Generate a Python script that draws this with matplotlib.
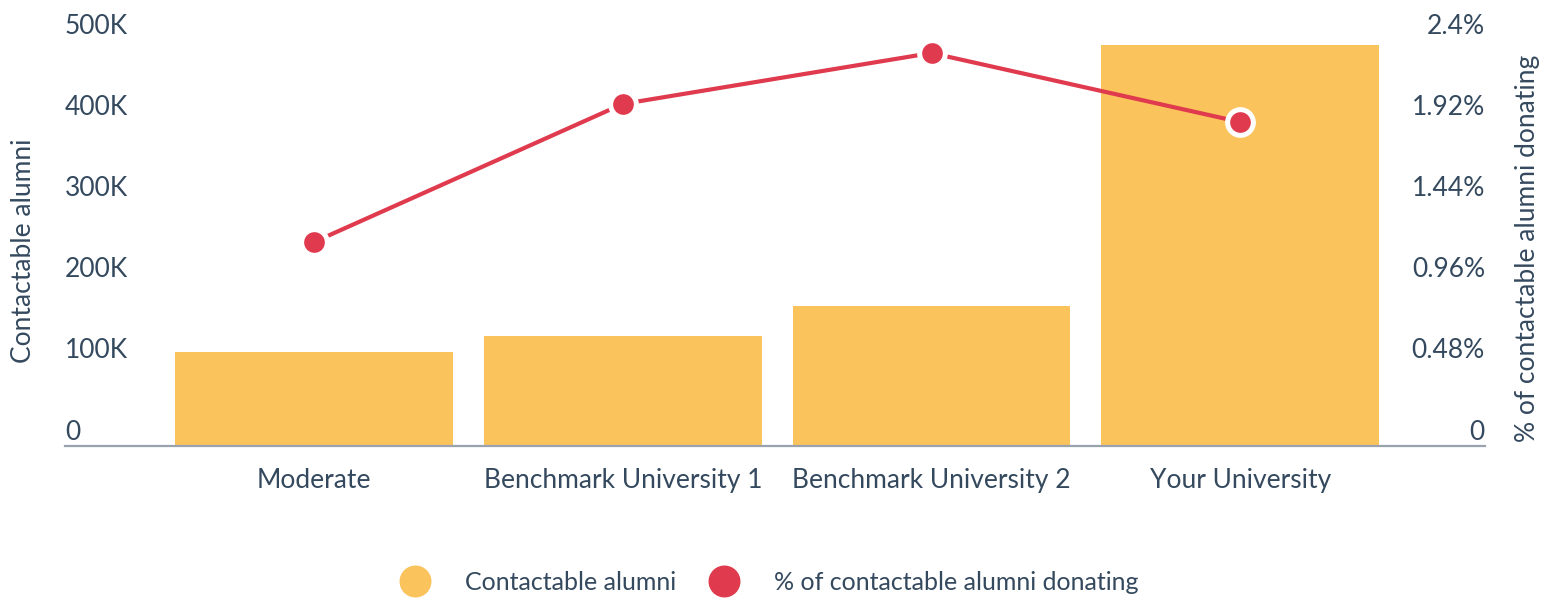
#!/usr/bin/env python3

import matplotlib.pyplot as plt
from matplotlib.lines import Line2D
from matplotlib.transforms import offset_copy


########
# Data #
########

categories = ['Moderate', 'Benchmark University 1', 'Benchmark University 2',
              'Your University']
alumni = [115800, 135500, 172000, 494000]
pct_donating = [1.206, 2.022, 2.323, 1.915]

left_ticks = [0, 100000, 200000, 300000, 400000, 500000]
left_labels = ['0', '100K', '200K', '300K', '400K', '500K']
right_ticks = [0, 0.48, 0.96, 1.44, 1.92, 2.4]
right_labels = ['0', '0.48%', '0.96%', '1.44%', '1.92%', '2.4%']


#########
# Style #
#########

YELLOW = '#fbc35b'
RED = '#e03a4e'
TEXT = '#34495e'
AXIS = '#9aa3ad'
FONT = 'Lato'

plt.rcParams.update({'font.family': [FONT, 'DejaVu Sans'],
                     'font.size': 19})


########
# Plot #
########

W, H = 1549, 601
fig = plt.figure(figsize=(W / 100, H / 100), dpi=100)
ax = fig.add_axes([65 / W, 155 / H, 1420 / W, 406 / H])
ax2 = ax.twinx()

x = list(range(len(categories)))
ax.bar(x, alumni, width=0.9, color=YELLOW, zorder=2)

ax2.plot(x, pct_donating, color=RED, lw=3, zorder=3,
         marker='o', ms=18.5, mfc=RED, mec='white', mew=3.6)

ax.set_xlim(-0.807, 3.793)
ax.set_ylim(0, 500000)
ax2.set_ylim(0, 2.4)

for a in (ax, ax2):
    for s in a.spines.values():
        s.set_visible(False)
    a.set_yticks([])
ax.spines['bottom'].set_visible(True)
ax.spines['bottom'].set_color(AXIS)
ax.spines['bottom'].set_linewidth(1.6)

ax.set_xticks(x)
ax.set_xticklabels(categories, color=TEXT)
ax.tick_params(axis='x', length=0, pad=16)

# y tick labels sit above their tick position
lt = offset_copy(ax.get_yaxis_transform(), fig=fig, y=6.5, units='dots')
for v, lab in zip(left_ticks, left_labels):
    ax.text(0, v, lab, transform=lt, ha='left', va='baseline', color=TEXT)
rt = offset_copy(ax2.get_yaxis_transform(), fig=fig, y=6.5, units='dots')
for v, lab in zip(right_ticks, right_labels):
    ax2.text(1, v, lab, transform=rt, ha='right', va='baseline', color=TEXT)

fig.text(24 / W, 1 - 251 / H, 'Contactable alumni', rotation=90,
         ha='center', va='center', color=TEXT)
fig.text(1528 / W, 1 - 248 / H, '% of contactable alumni donating',
         rotation=90, ha='center', va='center', color=TEXT)

handles = [
    Line2D([], [], ls='none', marker='o', ms=22, mfc=YELLOW, mec=YELLOW,
           label='Contactable alumni'),
    Line2D([], [], ls='none', marker='o', ms=22, mfc=RED, mec=RED,
           label='% of contactable alumni donating'),
]
leg = fig.legend(handles=handles, loc='center', ncol=2, frameon=False,
                 bbox_to_anchor=(764 / W, 19 / H), fontsize=18,
                 handletextpad=1.0, columnspacing=0.9, borderaxespad=0)
for t in leg.get_texts():
    t.set_color(TEXT)

fig.savefig('out.png', dpi=100)
